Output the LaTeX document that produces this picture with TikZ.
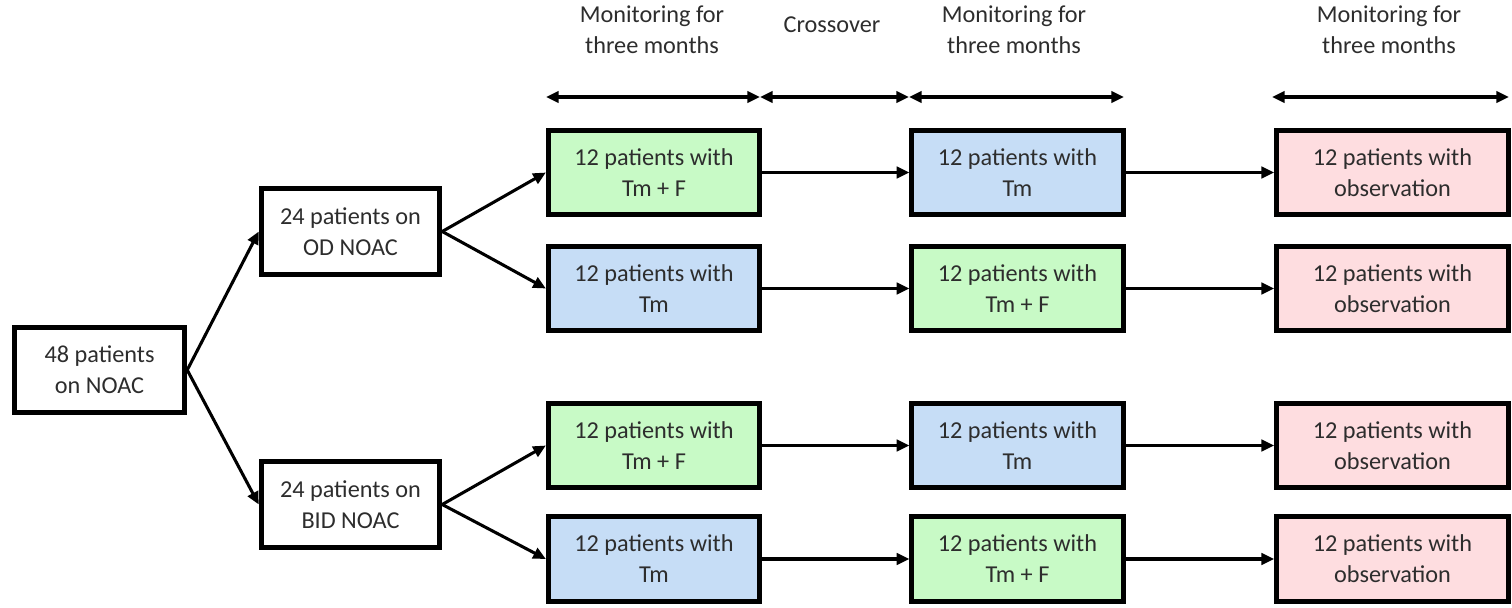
\documentclass[tikz,border=0pt]{standalone}
\usepackage{fontspec}
\setmainfont{Carlito}
\usepackage{tikz}
\usetikzlibrary{arrows.meta}
\usetikzlibrary{positioning}

\definecolor{txt}{RGB}{45,45,45}
\definecolor{tmfill}{RGB}{198,221,246}
\definecolor{tmffill}{RGB}{200,250,198}
\definecolor{obsfill}{RGB}{254,221,224}

\begin{document}
\begin{tikzpicture}
[x = 0.75pt, y = -0.75pt,
every node/.style = {font = \fontsize{18.2}{23.2}\selectfont, text = txt, align = center},
box/.style = {rectangle, draw = black, line width = 3.6pt, inner sep = 0pt},
group/.style = {box, fill = white, minimum width = 134pt, minimum height = 65pt},
arm/.style = {box, minimum width = 158.6pt, minimum height = 63.5pt},
tm/.style = {arm, fill = tmfill},
tmf/.style = {arm, fill = tmffill},
obs/.style = {arm, fill = obsfill, minimum width = 174pt},
post/.style = {-{Triangle[length = 9.5pt, width = 8.5pt]}, line width = 2.3pt},
span/.style = {{Triangle[length = 9.5pt, width = 8.5pt]}-{Triangle[length = 9.5pt, width = 8.5pt]}, line width = 2.3pt}]

\useasboundingbox (0, 0) rectangle (1512, 607);

% headers
\node (head 1) at (652, 30) {Monitoring for\\three months};
\node (head 2) at (832, 25) {Crossover};
\node (head 3) at (1014, 30) {Monitoring for\\three months};
\node (head 4) at (1389, 30) {Monitoring for\\three months};

\coordinate (p0) at (546, 97);
\coordinate (p1) at (760, 97);
\coordinate (p2) at (909, 97);
\coordinate (p3) at (1124, 97);
\coordinate (p4) at (1272, 97);
\coordinate (p5) at (1509, 97);
\draw[span] (p0) -- (p1);
\draw[span] (p1) -- (p2);
\draw[span] (p2) -- (p3);
\draw[span] (p4) -- (p5);

% randomisation
\node[box, minimum width = 128pt, minimum height = 64pt] (all) at (99.5, 370) {48 patients\\on NOAC};
\node[group] (od) at (350.5, 231.5) {24 patients on\\OD NOAC};
\node[group] (bid) at (350.5, 504.5) {24 patients on\\BID NOAC};

% first period
\node[tmf] (od a1) at (654, 172.5) {12 patients with\\Tm + F};
\node[tm] (od b1) at (654, 288.5) {12 patients with\\Tm};
\node[tmf] (bid a1) at (654, 445.5) {12 patients with\\Tm + F};
\node[tm] (bid b1) at (654, 559) {12 patients with\\Tm};

% after crossover
\node[tm] (od a2) at (1017.5, 172.5) {12 patients with\\Tm};
\node[tmf] (od b2) at (1017.5, 288.5) {12 patients with\\Tm + F};
\node[tm] (bid a2) at (1017.5, 445.5) {12 patients with\\Tm};
\node[tmf] (bid b2) at (1017.5, 559) {12 patients with\\Tm + F};

% observation
\node[obs] (od a3) at (1392.5, 172.5) {12 patients with\\observation};
\node[obs] (od b3) at (1392.5, 288.5) {12 patients with\\observation};
\node[obs] (bid a3) at (1392.5, 445.5) {12 patients with\\observation};
\node[obs] (bid b3) at (1392.5, 559) {12 patients with\\observation};

\draw[post] (all.east) -- (od.west);
\draw[post] (all.east) -- (bid.west);
\draw[post] (od.east) -- (od a1.west);
\draw[post] (od.east) -- (od b1.west);
\draw[post] (bid.east) -- (bid a1.west);
\draw[post] (bid.east) -- (bid b1.west);

\foreach \r in {od a, od b, bid a, bid b}
{
\draw[post] (\r1.east) -- (\r2.west);
\draw[post] (\r2.east) -- (\r3.west);
}
\end{tikzpicture}
\end{document}
